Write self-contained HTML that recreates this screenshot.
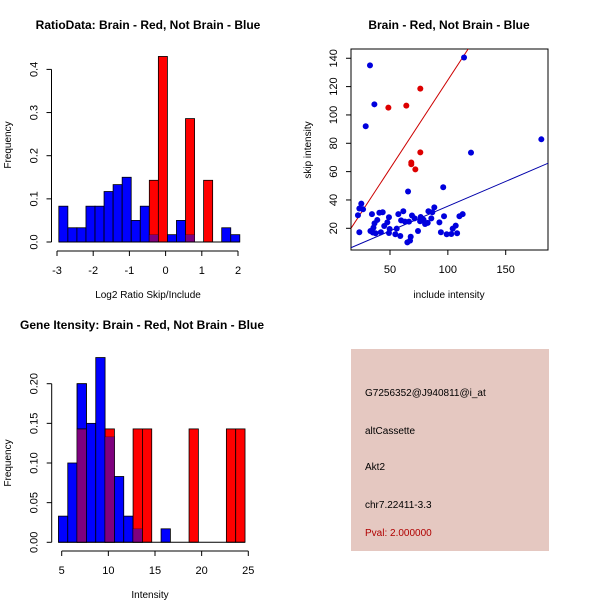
<!DOCTYPE html>
<html><head><meta charset="utf-8"><style>
body{margin:0;background:#fff;width:600px;height:600px;overflow:hidden}
svg{font-family:"Liberation Sans",Arial,sans-serif}
</style></head><body>
<svg id="s" width="600" height="600" xmlns="http://www.w3.org/2000/svg">
<rect width="600" height="600" fill="#fff"/>
<text x="148" y="29" font-size="12" font-weight="bold" text-anchor="middle">RatioData: Brain - Red, Not Brain - Blue</text>
<text x="449" y="29" font-size="12" font-weight="bold" text-anchor="middle">Brain - Red, Not Brain - Blue</text>
<text x="142" y="329" font-size="12" font-weight="bold" text-anchor="middle">Gene Itensity: Brain - Red, Not Brain - Blue</text>
<text x="148" y="298" font-size="10" text-anchor="middle">Log2 Ratio Skip/Include</text>
<text x="11" y="145" font-size="10" text-anchor="middle" transform="rotate(-90 11 145)">Frequency</text>
<text x="449" y="298" font-size="10" text-anchor="middle">include intensity</text>
<text x="311" y="150" font-size="10" text-anchor="middle" transform="rotate(-90 311 150)">skip intensity</text>
<text x="150" y="598" font-size="10" text-anchor="middle">Intensity</text>
<text x="11" y="463" font-size="10" text-anchor="middle" transform="rotate(-90 11 463)">Frequency</text>
<g>
<rect x="351" y="349" width="198" height="202" fill="#e5c8c1"/>
<text x="365" y="396" font-size="10">G7256352@J940811@i_at</text>
<text x="365" y="434" font-size="10">altCassette</text>
<text x="365" y="470" font-size="10">Akt2</text>
<text x="365" y="508" font-size="10">chr7.22411-3.3</text>
<text x="365" y="536" font-size="10" fill="#b00000">Pval: 2.000000</text>
</g>
</svg>
<script>
// Ratio histogram data (bin left edge = start + i*width)
const ratioBlue=[0.083,0.033,0.033,0.083,0.083,0.117,0.133,0.15,0.05,0.083,0.017,0,0.017,0.05,0.017,0,0,0,0.033,0.017];
const ratioRed=[0,0,0,0,0,0,0,0,0,0,0.143,0.43,0,0,0.286,0,0.143,0,0,0];
const ratioXTicks=[-3,-2,-1,0,1,2];
const ratioYTicks=[0.0,0.1,0.2,0.3,0.4];
// Intensity histogram data
const intBlue=[0.033,0.1,0.2,0.15,0.233,0.133,0.083,0.033,0.017,0,0,0.017,0,0,0,0,0,0,0,0];
const intRed=[0,0,0.143,0,0,0.143,0,0,0.143,0.143,0,0,0,0,0.143,0,0,0,0.143,0.143];
const intXTicks=[5,10,15,20,25];
const intYTicks=["0.00","0.05","0.10","0.15","0.20"];
// Scatter data
const redX=[48.6,64.1,76.2,76.2,68.4,68.4,71.9];
const redY=[105.2,106.6,118.6,73.6,66.4,65.2,61.6];
const blueX=[32.7,36.5,29,114,120,180.8,96,65.6,25.2,23.5,26.7,22.3,23.5,34.4,40.8,43.7,39,36.6,35.7,33.1,35.2,37.5,42.1,45,47.7,49.1,49.7,49.1,54.6,55.8,57.2,59.6,61.5,63,66.4,58.9,65,67.3,67.9,69,71.3,74.2,76,79,80.3,82.6,83.2,85.7,86.6,88.3,92.7,94,96.7,99,103,104.2,106.8,108,110,112.8,76.5];
const blueY=[135,107.5,92,140.5,73.4,82.8,49,46,37.4,34,33.4,29.2,17.2,30,31,31.3,25.9,23.5,20.5,18.1,17,16.5,17.2,21.6,24.2,27.8,19.5,16.7,15.8,19.8,30,25.6,32,24.7,24.7,14.6,10.1,11.3,14,29,27,18.1,25,26,23,23.8,32,27,31.3,34.8,24.2,17.2,28.5,15.8,16,19.8,21.9,16.5,28.5,30,28];
const scXTicks=[50,100,150];
const scYTicks=[20,40,60,80,100,120,140];
const redSlope=1.25, redInt=-0.4, blueSlope=0.35, blueInt=0.6;

const NS="http://www.w3.org/2000/svg", svg=document.getElementById('s');
function mk(tag,attrs,parent){const e=document.createElementNS(NS,tag);for(const k in attrs)e.setAttribute(k,attrs[k]);(parent||svg).appendChild(e);return e;}

function hist(blue,red,start,w,sx,sy,name){
  const g=mk('g',{});
  
  
  for(let i=0;i<blue.length;i++){
    const x0=sx(start+i*w),x1=sx(start+(i+1)*w),b=blue[i],r=red[i];
    if(b>0){const e=mk('rect',{x:x0,y:sy(b),width:x1-x0,height:sy(0)-sy(b),fill:'#0000ff',stroke:'#000','stroke-width':0.8},g);
      
      }
    if(r>0){const e=mk('rect',{x:x0,y:sy(r),width:x1-x0,height:sy(0)-sy(r),fill:'#ff0000',stroke:'#000','stroke-width':0.8},g);
      
      }
    const m=Math.min(b,r);
    if(m>0){const e=mk('rect',{x:x0,y:sy(m),width:x1-x0,height:sy(0)-sy(m),fill:'#7f007f',stroke:'#000','stroke-width':0.5,'stroke-opacity':0.5},g);
      
      }
    if(b>r&&r>0){const e=mk('rect',{x:x0,y:sy(b),width:x1-x0,height:sy(r)-sy(b),fill:'#0000ff',stroke:'#000','stroke-width':0.8},g);
      
      }
  }
  mk('line',{x1:sx(start),x2:sx(start+blue.length*w),y1:sy(0),y2:sy(0),stroke:'#000'},g);
}
function xaxis(ticks,sx,y,name,labels){
  const g=mk('g',{});
  
  
  mk('line',{x1:sx(ticks[0]),x2:sx(ticks[ticks.length-1]),y1:y,y2:y,stroke:'#000'},g);
  ticks.forEach((t,i)=>{mk('line',{x1:sx(t),x2:sx(t),y1:y,y2:y+5,stroke:'#000'},g);
    const e=mk('text',{x:sx(t),y:y+23,'font-size':11,'text-anchor':'middle'},g);e.textContent=labels?labels[i]:t;});
}
function yaxis(ticks,sy,x,name,labels){
  const g=mk('g',{});
  
  
  mk('line',{x1:x,x2:x,y1:sy(+ticks[0]),y2:sy(+ticks[ticks.length-1]),stroke:'#000'},g);
  ticks.forEach((t,i)=>{const y=sy(+t);mk('line',{x1:x,x2:x-5,y1:y,y2:y,stroke:'#000'},g);
    const e=mk('text',{x:x-14,y:y,'font-size':11,'text-anchor':'middle',transform:`rotate(-90 ${x-14} ${y})`},g);e.textContent=labels?labels[i]:t;});
}
// Plot 1
const r_sx=v=>238+(v-2)*36.2, r_sy=v=>242-v*431.5;
hist(ratioBlue,ratioRed,-2.95,0.25,r_sx,r_sy,'ratio');
xaxis(ratioXTicks,r_sx,251,'ratio-x-axis');
yaxis(ratioYTicks,r_sy,51.5,'ratio-y-axis',ratioYTicks.map(t=>t.toFixed(1)));
// Plot 3
const i_sx=v=>61.7+(v-5)*9.33, i_sy=v=>542.3-v*793;
hist(intBlue,intRed,4.65,1,i_sx,i_sy,'intensity');
xaxis(intXTicks,i_sx,551,'intensity-x-axis');
yaxis(intYTicks,i_sy,51.7,'intensity-y-axis',intYTicks);
// Plot 2
const s_sx=v=>390+(v-50)*1.157, s_sy=v=>228.3-(v-20)*1.417;
const clip=mk('clipPath',{id:'cp'});mk('rect',{x:351,y:49,width:197,height:201},clip);
const box=mk('rect',{x:351,y:49,width:197,height:201,fill:'none',stroke:'#000'});


const lg=mk('g',{'clip-path':'url(#cp)'});
const x0=16,x1=190;
const rl=mk('line',{x1:s_sx(x0),y1:s_sy(redInt+redSlope*x0),x2:s_sx(x1),y2:s_sy(redInt+redSlope*x1),stroke:'#cc0000'},lg);


const bl=mk('line',{x1:s_sx(x0),y1:s_sy(blueInt+blueSlope*x0),x2:s_sx(x1),y2:s_sy(blueInt+blueSlope*x1),stroke:'#0000aa'},lg);


blueX.forEach((x,i)=>{const c=mk('circle',{cx:s_sx(x),cy:s_sy(blueY[i]),r:3,fill:'#0000dd'},lg);
  
  });
redX.forEach((x,i)=>{const c=mk('circle',{cx:s_sx(x),cy:s_sy(redY[i]),r:3,fill:'#dd0000'},lg);
  
  });
xaxis(scXTicks,s_sx,250,'scatter-x-axis');
yaxis(scYTicks,s_sy,351,'scatter-y-axis');
</script>
</body></html>
